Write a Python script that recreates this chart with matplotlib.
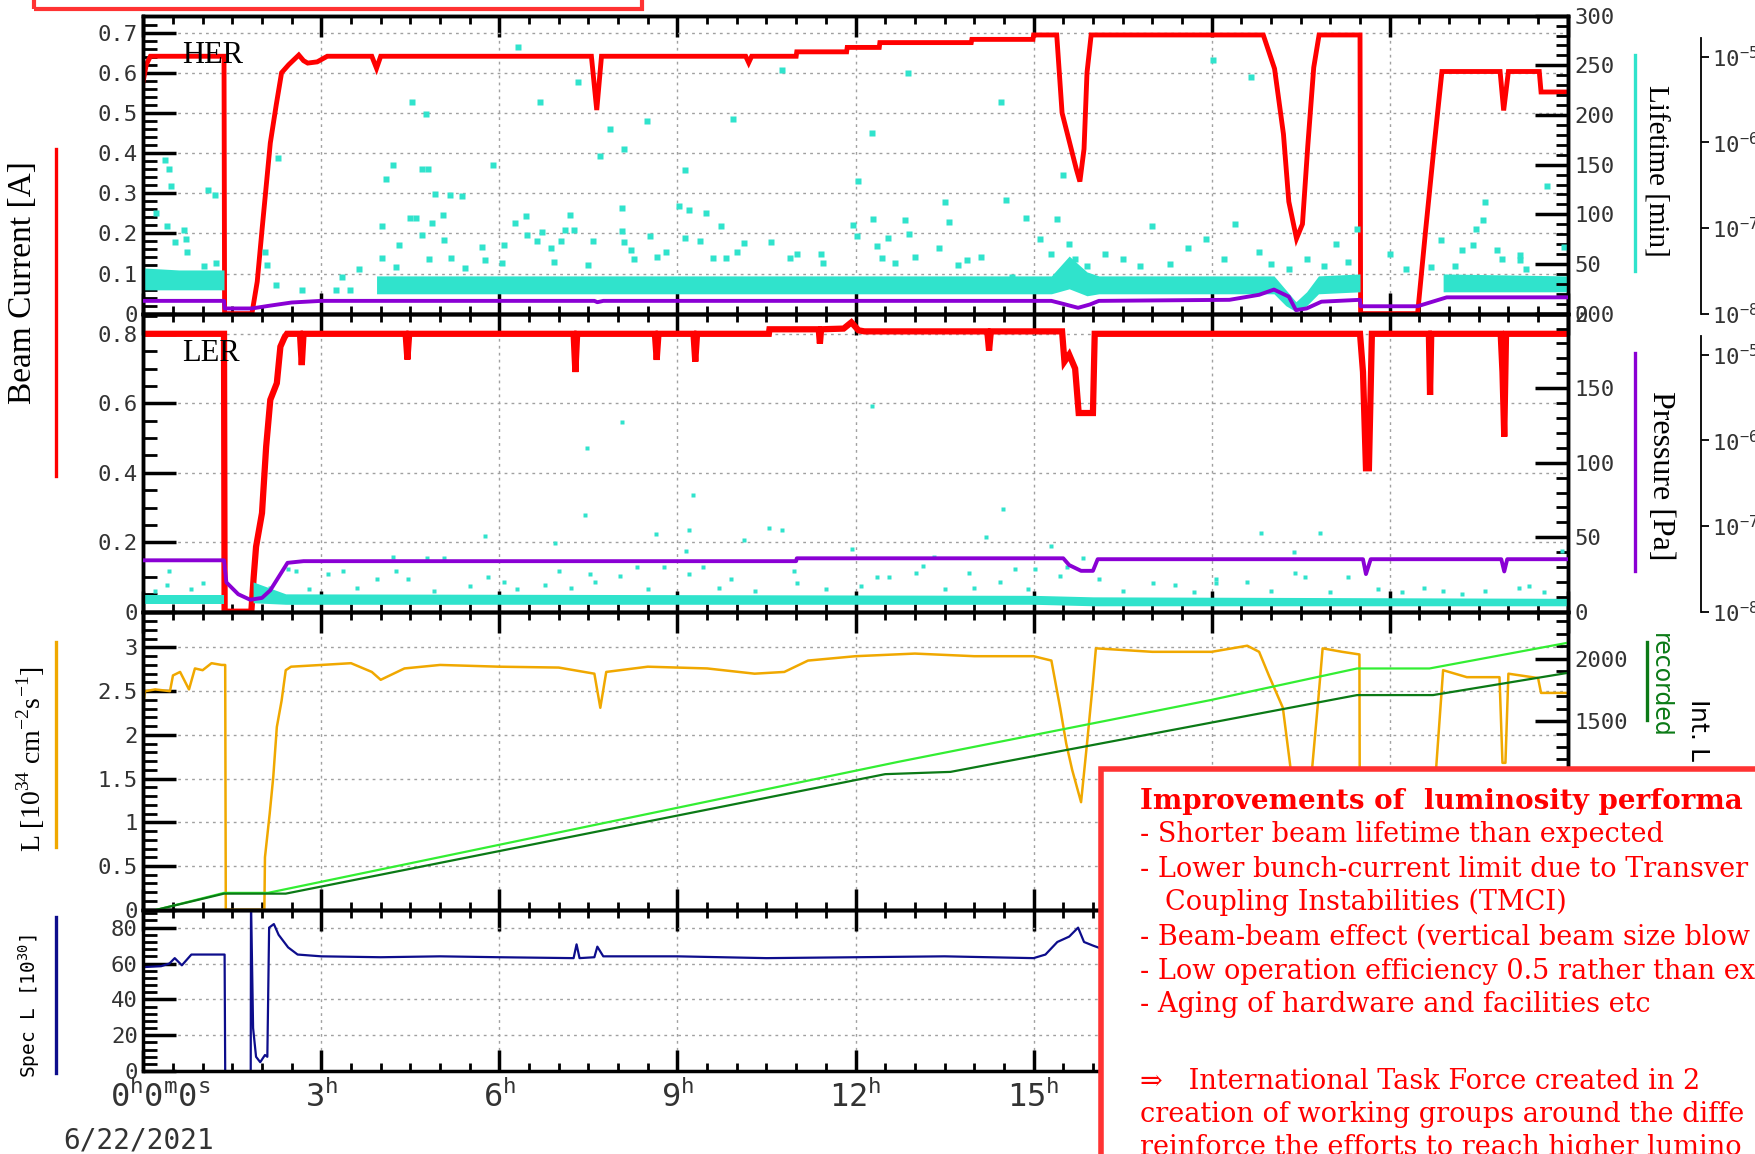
import numpy as np
import matplotlib
matplotlib.use('Agg')
import matplotlib.pyplot as plt
from matplotlib.ticker import MultipleLocator, FuncFormatter, FixedLocator, NullLocator
from matplotlib.patches import Rectangle
from matplotlib.lines import Line2D
from matplotlib.transforms import ScaledTranslation

plt.rcParams['font.family'] = 'DejaVu Sans Mono'
plt.rcParams['mathtext.fontset'] = 'custom'
plt.rcParams['mathtext.rm'] = 'DejaVu Sans Mono'

RED = '#ff0000'
PURPLE = '#8a00d4'
CYAN = '#30e3cc'
ORANGE = '#f0a800'
LGREEN = '#33ee33'
DGREEN = '#0b7a16'
NAVY = '#0d0d8c'
TICKC = '#333333'
BOXRED = '#ff3333'
SERIF = 'Liberation Serif'

# ---------------- data (hours after 0:00 on 6/22/2021) ----------------
her_cur = [(0.0, 0.58), (0.05, 0.62), (0.12, 0.641), (1.36, 0.641), (1.37, 0.0), (1.83, 0.0),
           (1.92, 0.08), (2.0, 0.208), (2.14, 0.425), (2.24, 0.52), (2.33, 0.60), (2.45, 0.62),
           (2.62, 0.644), (2.7, 0.63), (2.77, 0.624), (2.93, 0.627), (3.1, 0.641), (3.85, 0.641),
           (3.93, 0.611), (4.0, 0.641), (7.55, 0.641), (7.64, 0.507), (7.72, 0.641), (10.15, 0.641),
           (10.2, 0.625), (10.25, 0.641), (11.0, 0.641), (11.01, 0.652), (11.85, 0.652), (11.86, 0.663),
           (12.4, 0.663), (12.41, 0.675), (13.95, 0.675), (13.96, 0.683), (14.99, 0.683), (15.0, 0.694),
           (15.39, 0.694), (15.48, 0.5), (15.6, 0.43), (15.72, 0.36), (15.78, 0.329), (15.85, 0.41),
           (15.9, 0.6), (15.97, 0.694), (18.87, 0.694), (19.06, 0.61), (19.21, 0.447), (19.3, 0.279),
           (19.43, 0.187), (19.53, 0.223), (19.62, 0.418), (19.72, 0.613), (19.81, 0.694), (20.5, 0.694),
           (20.51, 0.0), (21.47, 0.0), (21.6, 0.2), (21.75, 0.42), (21.88, 0.603), (22.86, 0.603),
           (22.92, 0.506), (23.0, 0.603), (23.52, 0.603), (23.55, 0.552), (24.0, 0.552)]

ler_cur = [(0.0, 0.80), (1.36, 0.80), (1.37, 0.0), (1.82, 0.0), (1.86, 0.1), (1.9, 0.187), (2.0, 0.284),
           (2.07, 0.475), (2.14, 0.61), (2.25, 0.658), (2.31, 0.763), (2.38, 0.79), (2.42, 0.80),
           (2.64, 0.80), (2.67, 0.71), (2.7, 0.80), (4.42, 0.80), (4.45, 0.726), (4.48, 0.80),
           (7.25, 0.80), (7.28, 0.69), (7.31, 0.80), (8.62, 0.80), (8.65, 0.725), (8.68, 0.80),
           (9.27, 0.80), (9.3, 0.72), (9.33, 0.80), (10.54, 0.80), (10.55, 0.813), (11.38, 0.813),
           (11.4, 0.772), (11.42, 0.813), (11.8, 0.815), (11.93, 0.833), (12.05, 0.81), (12.15, 0.807),
           (14.22, 0.807), (14.25, 0.752), (14.28, 0.807), (15.48, 0.807), (15.52, 0.72), (15.6, 0.74),
           (15.7, 0.70), (15.76, 0.572), (16.0, 0.572), (16.03, 0.80), (20.5, 0.80), (20.55, 0.69),
           (20.6, 0.413), (20.65, 0.413), (20.7, 0.80), (21.66, 0.80), (21.68, 0.624), (21.7, 0.80),
           (22.87, 0.80), (22.9, 0.69), (22.93, 0.504), (22.96, 0.80), (24.0, 0.80)]

# vacuum pressure [Pa]
her_pres = [(0.0, 1.41e-8), (1.36, 1.41e-8), (1.37, 1.15e-8), (1.83, 1.15e-8), (2.1, 1.23e-8),
            (2.5, 1.35e-8), (3.0, 1.41e-8), (7.6, 1.41e-8), (7.65, 1.36e-8), (7.75, 1.41e-8),
            (15.3, 1.41e-8), (15.5, 1.3e-8), (15.75, 1.17e-8), (15.95, 1.28e-8), (16.1, 1.41e-8),
            (18.3, 1.45e-8), (18.8, 1.66e-8), (19.05, 1.91e-8), (19.3, 1.58e-8), (19.42, 1.1e-8),
            (19.6, 1.15e-8), (19.85, 1.38e-8), (20.5, 1.45e-8), (20.51, 1.22e-8), (21.47, 1.22e-8),
            (21.96, 1.55e-8), (24.0, 1.55e-8)]
ler_pres = [(0.0, 3.98e-8), (1.36, 3.98e-8), (1.40, 2.2e-8), (1.6, 1.6e-8), (1.8, 1.38e-8),
            (2.0, 1.45e-8), (2.14, 1.78e-8), (2.43, 3.72e-8), (2.7, 3.89e-8), (11.0, 3.89e-8),
            (11.01, 4.2e-8), (15.5, 4.2e-8), (15.6, 3.5e-8), (15.8, 3.0e-8), (16.0, 3.0e-8),
            (16.08, 4.1e-8), (20.55, 4.1e-8), (20.6, 2.75e-8), (20.68, 4.1e-8), (22.88, 4.1e-8),
            (22.93, 2.95e-8), (22.98, 4.1e-8), (24.0, 4.1e-8)]

# lifetime [min]: dense band (time, low, high) and isolated readings
her_band = [[(0.0, 24, 46), (0.6, 24, 44), (1.36, 24, 44)],
            [(3.93, 20, 38), (15.3, 20, 38), (15.6, 25, 58), (15.9, 18, 42), (16.1, 20, 38),
             (19.05, 20, 38), (19.25, 8, 24), (19.42, 2, 12), (19.6, 8, 22), (19.8, 20, 38),
             (20.5, 22, 40)],
            [(21.9, 22, 40), (24.0, 22, 38)]]
ler_band = [[(0.0, 5, 11), (1.36, 5, 11)],
            [(1.85, 6, 20), (2.4, 5, 12), (15.0, 5, 11), (16.0, 4, 10), (24.0, 4, 9)]]

her_life = [(0.21, 101), (0.37, 155), (0.43, 146), (0.47, 129), (0.40, 88), (0.69, 84), (0.53, 72),
            (0.72, 75), (0.74, 62), (1.03, 48), (1.22, 51), (1.09, 124), (1.2, 119), (2.27, 157),
            (2.05, 62), (2.09, 49), (2.24, 29), (2.67, 24), (3.25, 24), (3.49, 24), (3.35, 37),
            (3.64, 45), (4.02, 56), (4.02, 88), (4.09, 136), (4.2, 150), (4.31, 69), (4.26, 47),
            (4.52, 213), (4.49, 96), (4.6, 96), (4.7, 146), (4.8, 146), (4.76, 201), (4.7, 79),
            (4.81, 55), (4.87, 91), (4.91, 120), (5.07, 74), (5.05, 99), (5.16, 119), (5.18, 56),
            (5.37, 118), (5.42, 46), (5.71, 67), (5.76, 54), (5.9, 150), (6.05, 51), (6.07, 69),
            (6.26, 91), (6.32, 268), (6.45, 98), (6.47, 79), (6.63, 73), (6.69, 213), (6.71, 82),
            (6.87, 66), (6.92, 52), (7.03, 73), (7.11, 84), (7.19, 99), (7.26, 84), (7.32, 233),
            (7.5, 49), (7.57, 73), (7.69, 159), (7.86, 186), (8.06, 106), (8.1, 166), (8.06, 83),
            (8.1, 72), (8.22, 64), (8.27, 55), (8.48, 194), (8.51, 34), (8.54, 78), (8.66, 57),
            (8.8, 62), (9.02, 108), (9.12, 145), (9.19, 104), (9.12, 76), (9.38, 73), (9.48, 101),
            (9.6, 56), (9.74, 88), (9.81, 56), (9.93, 196), (10.01, 62), (10.12, 71), (10.57, 72),
            (10.76, 245), (10.9, 56), (11.02, 60), (11.41, 60), (11.46, 51), (11.96, 89), (12.03, 78),
            (12.05, 134), (12.28, 182), (12.3, 95), (12.37, 68), (12.44, 56), (12.54, 76), (12.66, 51),
            (12.83, 94), (12.88, 242), (12.9, 80), (13.0, 57), (13.4, 66), (13.5, 112), (13.58, 92),
            (13.72, 49), (13.87, 54), (14.11, 57), (14.45, 213), (14.54, 114), (14.64, 37), (14.88, 96),
            (15.1, 75), (15.3, 60), (15.4, 95), (15.5, 140), (15.6, 70), (15.7, 55), (15.9, 48),
            (16.2, 60), (16.5, 55), (16.8, 48), (17.0, 88), (17.3, 50), (17.6, 66), (17.9, 75),
            (18.02, 255), (18.2, 55), (18.4, 90), (18.67, 238), (18.8, 62), (19.0, 50), (19.3, 45),
            (19.6, 55), (19.9, 48), (20.1, 70), (20.3, 52), (20.45, 85), (21.0, 60), (21.28, 45),
            (23.65, 129), (22.6, 112), (22.57, 94), (22.45, 85), (21.86, 74), (22.4, 69), (22.22, 64),
            (21.69, 47), (22.1, 48), (22.8, 64), (22.9, 55), (23.2, 59), (23.2, 54), (23.3, 45),
            (23.93, 67)]

ler_life = [(12.28, 138), (8.06, 127), (7.47, 110), (9.26, 78), (7.45, 65), (14.48, 69), (8.64, 52),
            (9.19, 55), (10.54, 56), (10.76, 55), (10.12, 48), (5.76, 51), (6.94, 46), (9.14, 41),
            (14.19, 50), (11.94, 42), (4.2, 37), (4.78, 36), (5.07, 36), (13.32, 37), (0.43, 27),
            (0.40, 18), (1.01, 19), (3.11, 25), (3.37, 27), (4.26, 27), (3.93, 22), (4.46, 22),
            (5.81, 23), (6.07, 20), (6.77, 18), (7.01, 27), (7.52, 25), (7.61, 20), (8.03, 24),
            (8.32, 30), (8.77, 30), (9.19, 25), (9.43, 30), (9.91, 22), (10.97, 27), (11.02, 19),
            (12.37, 23), (12.57, 23), (13.02, 26), (13.14, 31), (13.92, 26), (14.43, 20), (14.69, 29),
            (2.43, 29), (2.57, 27), (1.9, 17), (2.0, 14), (2.14, 16), (15.3, 44), (15.03, 29),
            (15.45, 24), (15.83, 36), (16.1, 22), (15.56, 30), (17.01, 19), (17.38, 18), (18.07, 19),
            (18.59, 20), (18.84, 53), (19.39, 40), (19.41, 26), (19.58, 23), (19.83, 53), (20.29, 23),
            (21.58, 16), (21.9, 14), (23.18, 16), (23.34, 17), (23.91, 41), (18.07, 22), (22.22, 12),
            (0.2, 14), (0.8, 15), (2.8, 15), (3.6, 16), (4.9, 14), (5.5, 17), (6.3, 15), (7.2, 16),
            (8.5, 15), (9.7, 16), (10.3, 14), (11.5, 15), (12.1, 17), (13.5, 15), (14.0, 16),
            (14.9, 15), (16.5, 14), (17.7, 13), (19.0, 14), (20.0, 13), (20.8, 15), (21.2, 13),
            (22.6, 14), (23.6, 13)]

# luminosity [1e34 cm^-2 s^-1]
lum = [(0.0, 2.36), (0.03, 2.5), (0.2, 2.52), (0.45, 2.5), (0.5, 2.68), (0.62, 2.72), (0.77, 2.52),
       (0.87, 2.76), (1.0, 2.74), (1.15, 2.82), (1.32, 2.80), (1.38, 2.80), (1.39, 0.0), (2.04, 0.0),
       (2.05, 0.6), (2.13, 1.1), (2.19, 1.52), (2.25, 2.09), (2.33, 2.39), (2.4, 2.74), (2.49, 2.78),
       (3.0, 2.80), (3.5, 2.82), (3.85, 2.72), (4.0, 2.63), (4.4, 2.76), (5.0, 2.80), (6.0, 2.78),
       (7.0, 2.77), (7.6, 2.7), (7.7, 2.31), (7.8, 2.72), (8.5, 2.78), (9.5, 2.76), (10.3, 2.7),
       (10.8, 2.72), (11.2, 2.85), (12.0, 2.9), (13.0, 2.93), (14.0, 2.9), (15.0, 2.9), (15.3, 2.85),
       (15.45, 2.3), (15.55, 1.9), (15.65, 1.6), (15.8, 1.23), (15.9, 1.9), (16.0, 2.6), (16.05, 2.99),
       (17.0, 2.95), (18.0, 2.95), (18.6, 3.02), (18.8, 2.95), (18.97, 2.67), (19.2, 2.31),
       (19.32, 1.67), (19.45, 0.9), (19.6, 0.9), (19.7, 1.67), (19.8, 2.43), (19.87, 2.99),
       (20.2, 2.95), (20.49, 2.92), (20.5, 0.0), (21.76, 0.0), (21.77, 1.5), (21.9, 2.74),
       (22.3, 2.66), (22.85, 2.66), (22.9, 1.68), (22.95, 1.68), (23.0, 2.7), (23.5, 2.65),
       (23.55, 2.48), (24.0, 2.48)]

# integrated luminosity [pb^-1]
int_delivered = [(0.23, 0), (1.36, 134), (2.1, 134), (12.72, 1178), (17.98, 1670), (20.45, 1922),
                 (21.67, 1922), (24.0, 2127)]
int_recorded = [(0.23, 0), (1.36, 128), (2.4, 128), (12.5, 1080), (13.6, 1098), (20.45, 1710),
                (21.73, 1710), (24.0, 1887)]

# specific luminosity [1e30]
spec = [(0.0, 58), (0.3, 58.5), (0.44, 60), (0.53, 63), (0.65, 59), (0.81, 65), (1.14, 65), (1.37, 65),
        (1.38, 0), (1.81, 0), (1.815, 95), (1.85, 24), (1.9, 8), (1.97, 5), (2.05, 9), (2.09, 8),
        (2.12, 80), (2.2, 82), (2.28, 76), (2.44, 69), (2.6, 65), (3.0, 64), (4.0, 63.5), (5.0, 64),
        (6.0, 63.5), (7.25, 63), (7.3, 70.7), (7.35, 63), (7.6, 63.5), (7.65, 69.4), (7.75, 64),
        (9.0, 64), (10.5, 63), (12.0, 63.5), (13.5, 64), (15.0, 63), (15.2, 65), (15.4, 72),
        (15.6, 75), (15.75, 80), (15.85, 72), (16.0, 70), (16.5, 64), (24.0, 64)]

hour_ticks = list(range(0, 25, 3))
hidden_hours = [18, 21, 24]        # tick labels that sit under the slide's text box
hidden_intl = [0, 500, 1000]       # Int. L labels under the text box
date_label = '6/22/2021'

box_lines = ['Improvements of  luminosity performa',
             '- Shorter beam lifetime than expected',
             '- Lower bunch-current limit due to Transver',
             'Coupling Instabilities (TMCI)',
             '- Beam-beam effect (vertical beam size blow',
             '- Low operation efficiency 0.5 rather than ex',
             '- Aging of hardware and facilities etc',
             '\u21d2   International Task Force created in 2',
             'creation of working groups around the diffe',
             'reinforce the efforts to reach higher lumino']


def xy(pairs):
    a = np.array(pairs, dtype=float)
    return a[:, 0], a[:, 1]


def gfmt(v, p):
    return '%g' % v


def intl_fmt(v, p):
    return '' if round(v) in hidden_intl else '%g' % v


def style(ax, ymaj, ymin, ylim, labels_bottom=False):
    ax.set_xlim(0, 24)
    ax.set_ylim(*ylim)
    ax.xaxis.set_major_locator(FixedLocator(hour_ticks))
    ax.xaxis.set_minor_locator(MultipleLocator(0.5))
    ax.yaxis.set_major_locator(MultipleLocator(ymaj))
    ax.yaxis.set_minor_locator(MultipleLocator(ymin))
    ax.yaxis.set_major_formatter(FuncFormatter(gfmt))
    ax.tick_params(axis='x', which='major', direction='in', length=15, width=2.5, top=True,
                   bottom=True, labelbottom=labels_bottom, labelsize=23, labelcolor=TICKC, pad=7)
    ax.tick_params(axis='x', which='minor', direction='in', length=6, width=2, top=True, bottom=True)
    ax.tick_params(axis='y', which='major', direction='in', length=24, width=2.5, right=False,
                   labelsize=16, labelcolor=TICKC, pad=4)
    ax.tick_params(axis='y', which='minor', direction='in', length=10, width=2, right=False)
    for s in ax.spines.values():
        s.set_linewidth(2.5)
    ax.grid(True, which='major', color='#a0a0a0', linestyle=(0, (2, 3)), linewidth=1)
    ax.set_zorder(2)
    ax.patch.set_visible(False)


def right_axis(ax, ylim, ymaj, ymin, fmt=gfmt):
    axr = ax.twinx()
    axr.set_ylim(*ylim)
    axr.yaxis.set_major_locator(MultipleLocator(ymaj))
    axr.yaxis.set_minor_locator(MultipleLocator(ymin))
    axr.yaxis.set_major_formatter(FuncFormatter(fmt))
    axr.tick_params(axis='y', which='major', direction='in', length=24, width=2.5,
                    labelsize=16, labelcolor=TICKC, pad=5)
    axr.tick_params(axis='y', which='minor', direction='in', length=9, width=2)
    for s in axr.spines.values():
        s.set_linewidth(2.5)
    return axr


def pressure_axis(ax):
    axp = ax.twinx()
    axp.set_yscale('log')
    axp.set_ylim(1e-8, 10 ** -4.523)
    for s in ['top', 'left', 'bottom']:
        axp.spines[s].set_visible(False)
    axp.spines['right'].set_position(('axes', 1.0936))
    axp.spines['right'].set_bounds(1e-8, 10 ** -4.78)
    axp.spines['right'].set_linewidth(1.3)
    axp.yaxis.set_major_locator(FixedLocator([1e-8, 1e-7, 1e-6, 1e-5]))
    axp.yaxis.set_minor_locator(NullLocator())
    axp.tick_params(axis='y', which='major', direction='out', length=6, width=1.3, pad=2,
                    labelsize=16, labelcolor=TICKC)
    return axp


def band(ax, segments):
    for seg in segments:
        a = np.array(seg, dtype=float)
        ax.fill_between(a[:, 0], a[:, 1], a[:, 2], color=CYAN, lw=0)


fig = plt.figure(figsize=(17.56, 11.54), dpi=100)
L, W = 0.0816, 0.8112
ax1 = fig.add_axes([L, 0.7282, W, 0.2582])
ax2 = fig.add_axes([L, 0.4699, W, 0.2583])
ax3 = fig.add_axes([L, 0.2117, W, 0.2583])
ax4 = fig.add_axes([L, 0.0718, W, 0.1399])

# HER
style(ax1, 0.1, 0.02, (0, 0.742))
ax1l = right_axis(ax1, (0, 300), 50, 10)
ax1p = pressure_axis(ax1)
band(ax1l, her_band)
t, v = xy(her_life)
ax1l.plot(t, v, 's', ms=4, color=CYAN, mec='none')
t, v = xy(her_pres)
ax1p.plot(t, v, color=PURPLE, lw=2.8)
t, v = xy(her_cur)
ax1.plot(t, v, color=RED, lw=3.5, solid_joinstyle='miter')
ax1.text(0.0275, 0.865, 'HER', transform=ax1.transAxes, family=SERIF, fontsize=22, va='center')

# LER
style(ax2, 0.2, 0.05, (0, 0.858))
ax2l = right_axis(ax2, (0, 200), 50, 10)
ax2p = pressure_axis(ax2)
band(ax2l, ler_band)
t, v = xy(ler_life)
ax2l.plot(t, v, 's', ms=2.8, color=CYAN, mec='none')
t, v = xy(ler_pres)
ax2p.plot(t, v, color=PURPLE, lw=2.8)
t, v = xy(ler_cur)
ax2.plot(t, v, color=RED, lw=4.5, solid_joinstyle='miter')
ax2.text(0.0275, 0.868, 'LER', transform=ax2.transAxes, family=SERIF, fontsize=22, va='center')

# luminosity
style(ax3, 0.5, 0.1, (0, 3.41))
ax3r = right_axis(ax3, (0, 2375), 500, 100, fmt=intl_fmt)
t, v = xy(int_delivered)
ax3r.plot(t, v, color=LGREEN, lw=1.6)
t, v = xy(int_recorded)
ax3r.plot(t, v, color=DGREEN, lw=1.6)
t, v = xy(lum)
ax3.plot(t, v, color=ORANGE, lw=1.8)

# specific luminosity
style(ax4, 20, 4, (0, 90), labels_bottom=True)
ax4.tick_params(axis='y', which='both', right=True, labelright=False)
t, v = xy(spec)
ax4.plot(t, v, color=NAVY, lw=1.6)
xlabels = [r'$\mathrm{0^{h}0^{m}0^{s}}$'] + \
          ['' if h in hidden_hours else r'$\mathrm{%d^{h}}$' % h for h in hour_ticks[1:]]
ax4.set_xticks(hour_ticks, labels=xlabels)
first = ax4.xaxis.get_major_ticks()[0].label1
first.set_transform(first.get_transform() + ScaledTranslation(0.17, 0, fig.dpi_scale_trans))
fig.text(0.0791, 0.0117, date_label, fontsize=20, color=TICKC, ha='center', va='center')

# axis titles with colour keys
fig.text(0.0128, 0.7553, 'Beam Current [A]', rotation=90, family=SERIF, fontsize=24,
         ha='center', va='center')
fig.text(0.0172, 0.3417, r'L [10$^{\mathdefault{34}}$ cm$^{\mathdefault{-2}}$s$^{\mathdefault{-1}}$]',
         rotation=90, family=SERIF, fontsize=20, ha='center', va='center')
fig.text(0.0166, 0.1282, r'Spec L [10$^{\mathdefault{30}}$]', rotation=90, fontsize=14,
         ha='center', va='center')
fig.text(0.9426, 0.8515, 'Lifetime [min]', rotation=270, family=SERIF, fontsize=21,
         ha='center', va='center')
fig.text(0.9458, 0.5874, 'Pressure [Pa]', rotation=270, family=SERIF, fontsize=23,
         ha='center', va='center')
fig.text(0.9452, 0.4515, 'recorded', rotation=270, family='DejaVu Sans', fontsize=17, color=DGREEN,
         ha='center', va='top')
fig.text(0.9668, 0.3951, r'Int. L [pb$^{\mathdefault{-1}}$]', rotation=270, family='DejaVu Sans',
         fontsize=18, ha='center', va='top')

keys = [(0.0319, 0.8709, 0.5874, RED), (0.0319, 0.4437, 0.266, ORANGE), (0.0319, 0.2058, 0.0699, NAVY),
        (0.9311, 0.9524, 0.765, CYAN), (0.9311, 0.6942, 0.5049, PURPLE), (0.9381, 0.4437, 0.3757, DGREEN)]
for x, y0, y1, c in keys:
    fig.add_artist(Line2D([x, x], [y0, y1], transform=fig.transFigure, color=c, lw=2.4))

# overlaid slide boxes
fig.add_artist(Rectangle((0.0191, 0.9922), 0.3463, 0.1, transform=fig.transFigure,
                         facecolor='none', edgecolor=BOXRED, lw=3, zorder=10))
fig.add_artist(Rectangle((0.6272, -0.05), 0.5, 0.384, transform=fig.transFigure,
                         facecolor='white', edgecolor=BOXRED, lw=4, zorder=10))
line_x = [0.6492, 0.6492, 0.6492, 0.6637, 0.6492, 0.6492, 0.6492, 0.6492, 0.6492, 0.6492]
line_y = [0.2993, 0.2704, 0.2401, 0.2112, 0.1814, 0.1518, 0.1230, 0.0566, 0.0277, -0.001]
for i, s in enumerate(box_lines):
    fig.text(line_x[i], line_y[i], s, color=RED, fontsize=20 if i == 0 else 19.5, va='baseline',
             ha='left', family=['DejaVu Serif', 'DejaVu Sans'],
             fontweight='bold' if i == 0 else 'normal', zorder=11)

fig.savefig('out.png', dpi=100)
